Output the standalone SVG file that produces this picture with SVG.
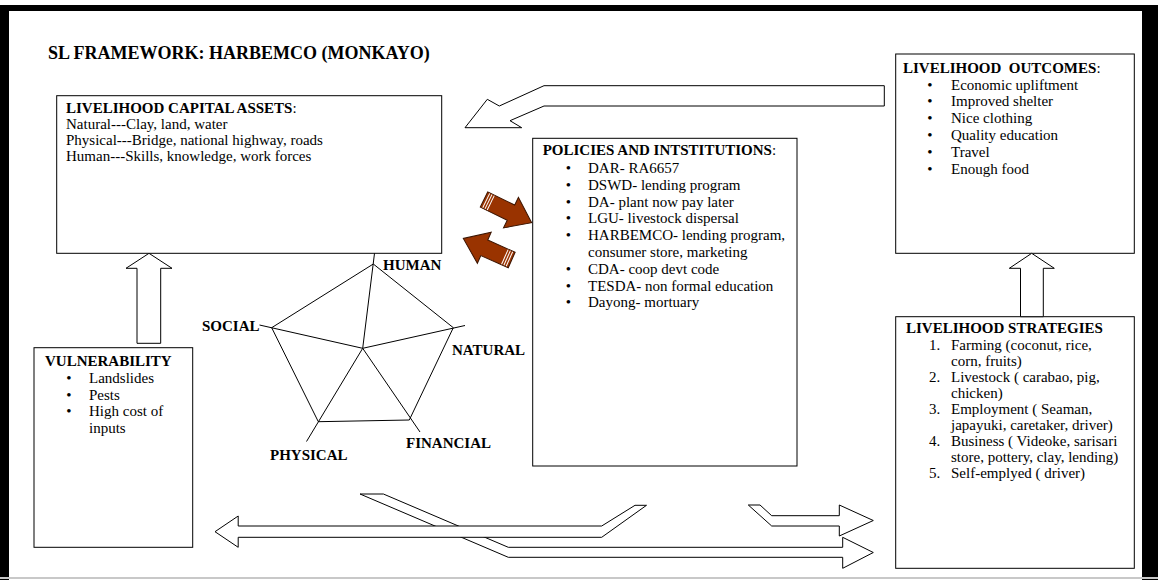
<svg xmlns="http://www.w3.org/2000/svg" width="1158" height="580" viewBox="0 0 1158 580">
<style>
.box{fill:#fff;stroke:#000;stroke-width:1}
.t{font-family:"Liberation Serif","Times New Roman",serif;font-size:15px;fill:#000}
.b{font-weight:bold}
.arr{fill:#fff;stroke:#000;stroke-width:1}
.ln{stroke:#000;stroke-width:1;fill:none}
.br{fill:#993300;stroke:#3a1400;stroke-width:1}
.st{stroke:#fff;stroke-width:1}
</style>
<rect x="0" y="0" width="1158" height="580" fill="#fff"/>
<g id="frame">
<rect x="0" y="5" width="1158" height="6" fill="#000"/>
<rect x="0" y="5" width="9" height="575" fill="#000"/>
<rect x="1142" y="5" width="16" height="575" fill="#000"/>
<line x1="0" y1="578" x2="1158" y2="578" stroke="#c8c8c8" stroke-width="2"/>
</g>
<text class="t b" x="48" y="59" style="font-size:18px">SL FRAMEWORK: HARBEMCO (MONKAYO)</text>

<g id="capital-assets">
<rect class="box" x="56.7" y="95.7" width="385" height="157.6"/>
<text class="t" x="66" y="113"><tspan class="b">LIVELIHOOD CAPITAL ASSETS</tspan>:</text>
<text class="t" x="66" y="129">Natural---Clay, land, water</text>
<text class="t" x="66" y="145">Physical---Bridge, national highway, roads</text>
<text class="t" x="66" y="161">Human---Skills, knowledge, work forces</text>
</g>

<g id="outcomes">
<rect class="box" x="895.7" y="54" width="238.6" height="199.3"/>
<text class="t" x="903" y="72.5" style="white-space:pre"><tspan class="b">LIVELIHOOD  OUTCOMES</tspan>:</text>
<g class="t">
<text x="930" y="89.5" text-anchor="middle">•</text><text x="951" y="89.5">Economic upliftment</text>
<text x="930" y="106.4" text-anchor="middle">•</text><text x="951" y="106.4">Improved shelter</text>
<text x="930" y="123.3" text-anchor="middle">•</text><text x="951" y="123.3">Nice clothing</text>
<text x="930" y="140.2" text-anchor="middle">•</text><text x="951" y="140.2">Quality education</text>
<text x="930" y="157.1" text-anchor="middle">•</text><text x="951" y="157.1">Travel</text>
<text x="930" y="174" text-anchor="middle">•</text><text x="951" y="174">Enough food</text>
</g>
</g>

<g id="policies">
<rect class="box" x="532.7" y="138.3" width="264.3" height="327.7"/>
<text class="t" x="542.7" y="155"><tspan class="b">POLICIES AND INTSTITUTIONS</tspan>:</text>
<g class="t">
<text x="568.3" y="173" text-anchor="middle">•</text><text x="588" y="173">DAR- RA6657</text>
<text x="568.3" y="189.8" text-anchor="middle">•</text><text x="588" y="189.8">DSWD- lending program</text>
<text x="568.3" y="206.6" text-anchor="middle">•</text><text x="588" y="206.6">DA- plant now pay later</text>
<text x="568.3" y="223.4" text-anchor="middle">•</text><text x="588" y="223.4">LGU- livestock dispersal</text>
<text x="568.3" y="240.2" text-anchor="middle">•</text><text x="588" y="240.2">HARBEMCO- lending program,</text>
<text x="588" y="257">consumer store, marketing</text>
<text x="568.3" y="273.8" text-anchor="middle">•</text><text x="588" y="273.8">CDA- coop devt code</text>
<text x="568.3" y="290.6" text-anchor="middle">•</text><text x="588" y="290.6">TESDA- non formal education</text>
<text x="568.3" y="307.4" text-anchor="middle">•</text><text x="588" y="307.4">Dayong- mortuary</text>
</g>
</g>

<g id="vulnerability">
<rect class="box" x="34" y="347.7" width="158.7" height="199.6"/>
<text class="t b" x="45" y="366">VULNERABILITY</text>
<g class="t">
<text x="69" y="383" text-anchor="middle">•</text><text x="89" y="383">Landslides</text>
<text x="69" y="399.5" text-anchor="middle">•</text><text x="89" y="399.5">Pests</text>
<text x="69" y="416" text-anchor="middle">•</text><text x="89" y="416">High cost of</text>
<text x="89" y="432.5">inputs</text>
</g>
</g>

<g id="strategies">
<rect class="box" x="895.7" y="316.7" width="238.6" height="251.6"/>
<text class="t b" x="906" y="333">LIVELIHOOD STRATEGIES</text>
<g class="t">
<text x="929" y="349.5">1.</text><text x="951" y="349.5">Farming (coconut, rice,</text>
<text x="951" y="365.6">corn, fruits)</text>
<text x="929" y="381.7">2.</text><text x="951" y="381.7">Livestock ( carabao, pig,</text>
<text x="951" y="397.8">chicken)</text>
<text x="929" y="413.9">3.</text><text x="951" y="413.9">Employment ( Seaman,</text>
<text x="951" y="430">japayuki, caretaker, driver)</text>
<text x="929" y="446.1">4.</text><text x="951" y="446.1">Business ( Videoke, sarisari</text>
<text x="951" y="462.2">store, pottery, clay, lending)</text>
<text x="929" y="478.3">5.</text><text x="951" y="478.3">Self-emplyed ( driver)</text>
</g>
</g>

<g id="pentagon">
<polygon class="ln" points="373.3,264 453.3,327.7 409.3,420 318.3,421.7 271.7,327.7"/>
<line class="ln" x1="362.7" y1="348.3" x2="374.5" y2="253.3"/>
<line class="ln" x1="362.7" y1="348.3" x2="465" y2="325.5"/>
<line class="ln" x1="362.7" y1="348.3" x2="420" y2="432"/>
<line class="ln" x1="362.7" y1="348.3" x2="306.5" y2="441.5"/>
<line class="ln" x1="362.7" y1="348.3" x2="259.5" y2="325"/>
<text class="t b" x="383" y="270">HUMAN</text>
<text class="t b" x="202" y="331">SOCIAL</text>
<text class="t b" x="452" y="355">NATURAL</text>
<text class="t b" x="406" y="448">FINANCIAL</text>
<text class="t b" x="270" y="460">PHYSICAL</text>
</g>

<g id="connectors">
<polygon class="arr" points="465,127.7 487.3,99.3 499.3,106 544,85.7 884.3,85.7 884.3,106 544,106 510,120.7 521.7,127.7"/>
<polygon class="arr" points="149,253.3 172,268.3 160.7,268.3 160.7,343.3 137,343.3 137,268.3 126,268.3"/>
<polygon class="arr" points="1031.7,253.3 1054.3,268.3 1043.3,268.3 1043.3,316.7 1020.5,316.7 1020.5,268.3 1009.3,268.3"/>
<g transform="translate(484,199.5) rotate(26)">
<polygon class="br" points="0,-8.5 30,-8.5 30,-17 53,0 30,17 30,8.5 0,8.5"/>
<line class="st" x1="2.5" y1="-8" x2="2.5" y2="8"/><line class="st" x1="5" y1="-8" x2="5" y2="8"/><line class="st" x1="7.5" y1="-8" x2="7.5" y2="8"/>
</g>
<g transform="translate(511.7,260) rotate(204)">
<polygon class="br" points="0,-8.5 30,-8.5 30,-17 53,0 30,17 30,8.5 0,8.5"/>
<line class="st" x1="2.5" y1="-8" x2="2.5" y2="8"/><line class="st" x1="5" y1="-8" x2="5" y2="8"/><line class="st" x1="7.5" y1="-8" x2="7.5" y2="8"/>
</g>
<polygon class="arr" points="360,494 383.4,494 508.3,547.3 842.7,547.3 842.7,537.3 873.3,552.5 842.7,568.3 842.7,557.3 508.3,557.3"/>
<polygon class="arr" points="215,531.7 238.2,516 238.2,526 601.7,526 635,505.3 646.5,505.3 601.7,537.3 238.2,537.3 238.2,547.3"/>
<polygon class="arr" points="748.3,505 760,505 771.7,515.7 839.3,515.7 839.3,505 873.3,520.5 839.3,536 839.3,526 771.7,526"/>
</g>
</svg>
